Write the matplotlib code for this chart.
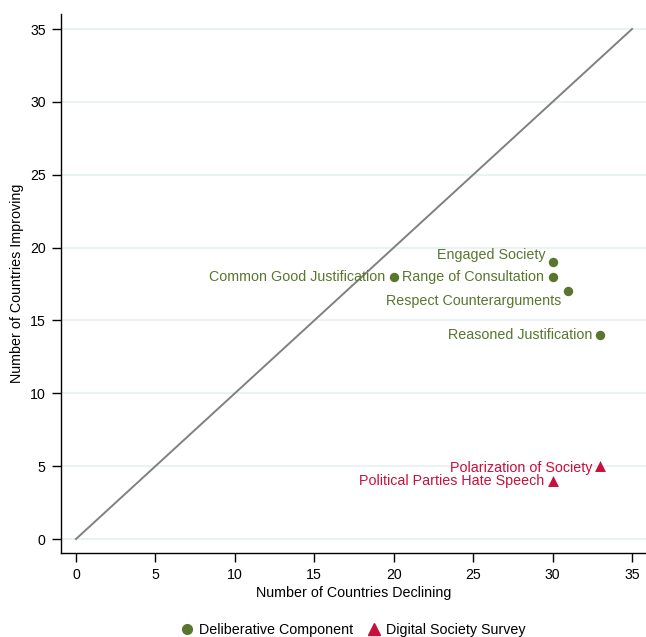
import matplotlib
matplotlib.use("Agg")
import matplotlib.pyplot as plt
from matplotlib.lines import Line2D

plt.rcParams['font.family'] = ['Liberation Sans', 'DejaVu Sans']

delib_labels = ["Engaged Society", "Range of Consultation", "Common Good Justification",
                "Respect Counterarguments", "Reasoned Justification"]
delib_x = [30, 30, 20, 31, 33]
delib_y = [19, 18, 18, 17, 14]
delib_pos = ["ul", "l", "l", "ll", "l"]

dig_labels = ["Polarization of Society", "Political Parties Hate Speech"]
dig_x = [33, 30]
dig_y = [5, 4]
dig_pos = ["l", "l"]

ticks = [0, 5, 10, 15, 20, 25, 30, 35]

green = "#58762e"
red = "#c8103c"

fig = plt.figure(figsize=(6.46, 6.37), dpi=100)
ax = fig.add_axes([61/646, (637-553)/637, (646-61)/646, (553-14)/637])

ax.set_xlim(-0.944, 35.88)
ax.set_ylim(-0.96, 36.03)

for t in ticks:
    ax.axhline(t, color="#e8f0f2", lw=1.2, zorder=0)

ax.plot([0, 35], [0, 35], color="#808080", lw=1.4, zorder=1)

ax.scatter(delib_x, delib_y, color=green, s=46, marker="o", zorder=3, linewidths=0)
ax.scatter(dig_x, dig_y, color=red, s=62, marker="^", zorder=3, linewidths=0)

FS = 10.3

def place(x, y, text, pos, color):
    if pos == "l":
        ax.annotate(text, (x, y), xytext=(-6, 0), textcoords="offset points",
                    ha="right", va="center", color=color, fontsize=FS)
    elif pos == "ul":
        ax.annotate(text, (x, y), xytext=(-5, 5), textcoords="offset points",
                    ha="right", va="center", color=color, fontsize=FS)
    elif pos == "ll":
        ax.annotate(text, (x, y), xytext=(-5, -7), textcoords="offset points",
                    ha="right", va="center", color=color, fontsize=FS)

for lx, ly, lt, lp in zip(delib_x, delib_y, delib_labels, delib_pos):
    place(lx, ly, lt, lp, green)
for lx, ly, lt, lp in zip(dig_x, dig_y, dig_labels, dig_pos):
    if lt.startswith("Polarization"):
        ax.annotate(lt, (lx, ly), xytext=(-6, -1), textcoords="offset points",
                    ha="right", va="center", color=red, fontsize=FS)
    else:
        place(lx, ly, lt, lp, red)

ax.set_xticks(ticks)
ax.set_yticks(ticks)
ax.tick_params(axis="both", direction="out", length=6.5, width=1, labelsize=10.2,
               color="black", pad=4.5)
for s in ["top", "right"]:
    ax.spines[s].set_visible(False)
for s in ["left", "bottom"]:
    ax.spines[s].set_linewidth(1)

ax.set_xlabel("Number of Countries Declining", fontsize=10.3, labelpad=3)
ax.set_ylabel("Number of Countries Improving", fontsize=10.3, labelpad=4)

handles = [Line2D([], [], marker="o", color=green, ls="", markersize=7),
           Line2D([], [], marker="^", color=red, ls="", markersize=8)]
fig.legend(handles, ["Deliberative Component", "Digital Society Survey"],
           loc="center", bbox_to_anchor=(352/646, 1 - 630/637), ncol=2, frameon=False,
           fontsize=10.3, handletextpad=0.25, columnspacing=0.9, handlelength=1.2)

fig.savefig("out.png", dpi=100)
